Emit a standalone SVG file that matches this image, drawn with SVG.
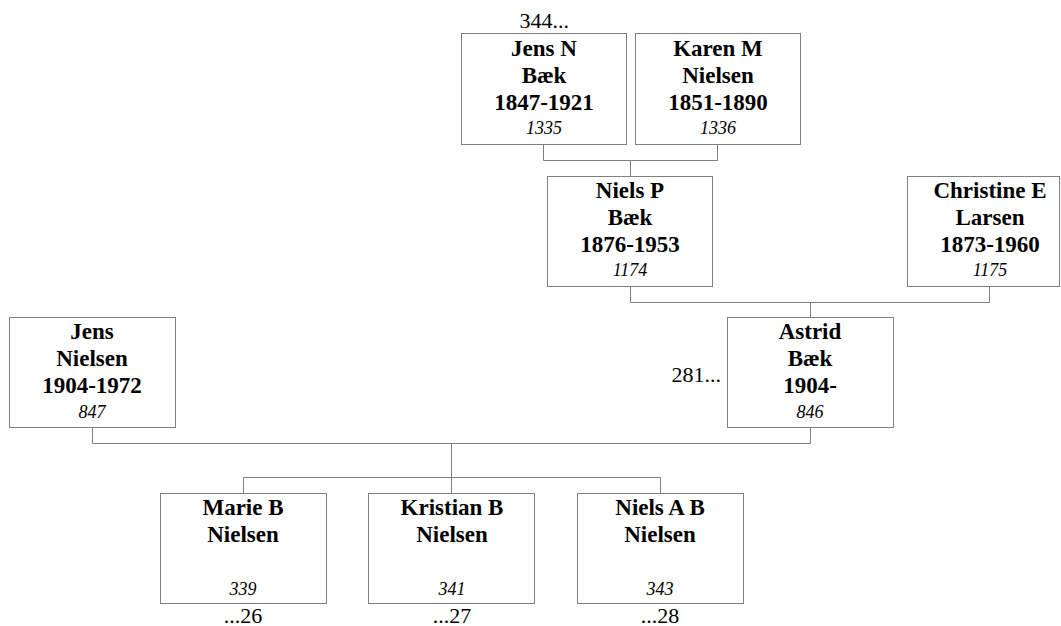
<svg xmlns="http://www.w3.org/2000/svg" width="1061" height="626" viewBox="0 0 1061 626">
<style>
.box{fill:#fff;stroke:#808080;stroke-width:1}
.n{font-family:"Liberation Serif",serif;font-weight:bold;font-size:23px;text-anchor:middle;fill:#000}
.id{font-family:"Liberation Serif",serif;font-style:italic;font-size:18px;text-anchor:middle;fill:#000}
.a{font-family:"Liberation Serif",serif;font-size:22px;fill:#000}
.c{fill:none;stroke:#808080;stroke-width:1}
</style>
<rect width="1061" height="626" fill="#fff"/>
<g id="connectors">
<path class="c" d="M543.5,144.5V160.5H717.5V144.5M630.5,160.5V176.5"/>
<path class="c" d="M630.5,286.5V302.5H989.5V286.5M810.5,302.5V317.5"/>
<path class="c" d="M92.5,427.5V443.5H810.5V427.5M451.5,443.5V477.5M243.5,493.5V477.5H660.5V493.5M451.5,477.5V493.5"/>
</g>
<g id="jensNBaek">
<rect class="box" x="461.5" y="33.5" width="165" height="111"/>
<text class="n" x="544" y="56">Jens N</text>
<text class="n" x="544" y="83">Bæk</text>
<text class="n" x="544" y="110">1847-1921</text>
<text class="id" x="544" y="134">1335</text>
<text class="a" x="569" y="28" text-anchor="end">344...</text>
</g>
<g id="karenMNielsen">
<rect class="box" x="635.5" y="33.5" width="165" height="111"/>
<text class="n" x="718" y="56">Karen M</text>
<text class="n" x="718" y="83">Nielsen</text>
<text class="n" x="718" y="110">1851-1890</text>
<text class="id" x="718" y="134">1336</text>
</g>
<g id="nielsPBaek">
<rect class="box" x="547.5" y="176.5" width="165" height="110"/>
<text class="n" x="630" y="198">Niels P</text>
<text class="n" x="630" y="225">Bæk</text>
<text class="n" x="630" y="252">1876-1953</text>
<text class="id" x="630" y="276">1174</text>
</g>
<g id="christineELarsen">
<rect class="box" x="907.5" y="176.5" width="152" height="110"/>
<text class="n" x="990" y="198">Christine E</text>
<text class="n" x="990" y="225">Larsen</text>
<text class="n" x="990" y="252">1873-1960</text>
<text class="id" x="990" y="276">1175</text>
</g>
<g id="jensNielsen">
<rect class="box" x="9.5" y="317.5" width="166" height="110"/>
<text class="n" x="92" y="339">Jens</text>
<text class="n" x="92" y="366">Nielsen</text>
<text class="n" x="92" y="393">1904-1972</text>
<text class="id" x="92" y="418">847</text>
</g>
<g id="astridBaek">
<rect class="box" x="727.5" y="317.5" width="166" height="110"/>
<text class="n" x="810" y="339">Astrid</text>
<text class="n" x="810" y="366">Bæk</text>
<text class="n" x="810" y="393">1904-</text>
<text class="id" x="810" y="418">846</text>
<text class="a" x="721" y="382" text-anchor="end">281...</text>
</g>
<g id="marieBNielsen">
<rect class="box" x="160.5" y="493.5" width="166" height="110"/>
<text class="n" x="243" y="515">Marie B</text>
<text class="n" x="243" y="542">Nielsen</text>
<text class="id" x="243" y="595">339</text>
<text class="a" x="243" y="623" text-anchor="middle">...26</text>
</g>
<g id="kristianBNielsen">
<rect class="box" x="368.5" y="493.5" width="166" height="110"/>
<text class="n" x="452" y="515">Kristian B</text>
<text class="n" x="452" y="542">Nielsen</text>
<text class="id" x="452" y="595">341</text>
<text class="a" x="452" y="623" text-anchor="middle">...27</text>
</g>
<g id="nielsABNielsen">
<rect class="box" x="577.5" y="493.5" width="166" height="110"/>
<text class="n" x="660" y="515">Niels A B</text>
<text class="n" x="660" y="542">Nielsen</text>
<text class="id" x="660" y="595">343</text>
<text class="a" x="660" y="623" text-anchor="middle">...28</text>
</g>
</svg>
